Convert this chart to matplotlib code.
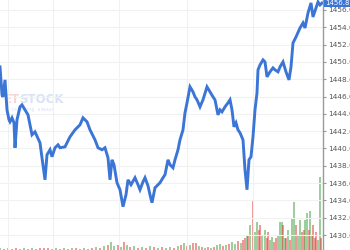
import matplotlib
matplotlib.use("Agg")
import matplotlib.pyplot as plt

# ---- data ----
t = [0,2,3,5,7,9,10,12,14,15,17,20,22,25,28,32,35,40,42,45,47,50,52,55,58,60,65,70,75,80,83,87,90,95,98,
     102,105,108,110,112,114,117,120,123,126,128,131,135,138,140,143,145,148,150,152,155,158,160,163,165,168,
     170,173,175,178,180,183,185,187,190,193,195,197,200,203,207,210,213,215,218,220,222,225,228,230,232,234,
     236,238,240,243,245,247,249,251,253,255,257,258,260,263,265,267,270,273,275,278,280,283,286,289,291,293,
     296,300,303,305,308,311,313,316,318,320,322]
price = [1449.42,1446.19,1445.96,1447.92,1444.46,1443.31,1443.08,1443.54,1442.96,1440.08,1443.31,1444.81,
         1445.04,1444.46,1443.88,1441.58,1441.92,1440.65,1438.92,1436.38,1439.27,1439.85,1439.04,1440.08,
         1440.42,1440.08,1440.19,1441.35,1442.15,1442.73,1443.54,1443.08,1442.15,1441.00,1440.08,
         1439.85,1440.08,1438.92,1436.38,1438.69,1438.12,1436.04,1435.23,1433.27,1434.65,1436.38,1435.81,
         1436.62,1435.81,1435.23,1436.15,1436.62,1435.69,1434.65,1433.73,1435.46,1435.81,1436.04,1436.62,
         1436.96,1438.69,1438.12,1437.77,1438.69,1439.85,1441.00,1442.15,1444.12,1445.27,1447.12,1446.54,
         1445.96,1445.62,1444.81,1445.62,1447.12,1446.54,1445.96,1445.62,1443.88,1444.46,1444.23,1444.81,
         1445.27,1445.62,1444.46,1442.50,1442.96,1442.15,1441.81,1441.00,1437.54,1435.23,1438.69,1439.04,
         1441.35,1444.46,1446.42,1449.08,1449.65,1450.23,1450.00,1448.27,1448.85,1449.31,1449.08,1448.85,
         1449.42,1450.00,1448.85,1447.92,1449.42,1452.19,1452.88,1453.92,1454.50,1453.92,1455.65,1456.81,
         1455.19,1456.23,1456.92,1456.58,1456.80]

vol_t = [0,4,8,12,16,20,24,28,32,36,40,44,48,52,56,60,
         64,68,72,76,80,84,88,92,96,100,104,108,111,114,118,121,
         124,127,130,134,138,142,146,150,154,158,162,166,170,174,178,181,
         184,187,190,193,196,199,202,205,208,211,214,217,220,223,226,229,
         232,235,238,241,243,245,247,248,250,253,255,257,259,260,262,265,
         267,268,270,272,274,276,278,280,282,283,285,286,288,290,292,294,
         296,298,300,302,304,305,307,309,310,312,313,315,316,318,320,321]
vol = [2,1,2,1,2,1,2,1,2,1,2,2,2,1,2,1,
       2,1,2,2,1,2,1,2,3,2,4,5,8,4,5,3,
       8,5,3,4,2,3,2,4,3,2,3,2,3,2,4,5,
       7,4,5,7,7,4,3,2,3,2,3,5,6,4,5,6,
       8,6,9,7,10,12,14,15,25,50,18,28,20,25,15,20,
       12,18,10,13,8,12,15,28,28,25,12,12,20,10,32,48,
       25,15,30,18,20,30,37,20,39,15,25,12,18,10,73,12]
vol_dir = ["g","r","g","r","r","g","g","r","g","r","r","r","r","g","g","r",
           "g","r","g","r","g","g","r","r","g","r","g","r","g","g","r","g",
           "r","g","r","g","r","g","r","g","r","g","r","g","g","r","g","r",
           "g","r","g","r","r","g","r","g","r","g","r","g","g","r","g","r",
           "g","g","r","g","r","r","g","r","g","r","g","g","r","r","g","g",
           "r","r","g","g","r","r","g","g","g","r","g","r","g","r","g","g",
           "r","g","g","r","r","g","g","r","g","g","r","r","r","g","g","r"]

price_ticks = [1430, 1432, 1434, 1436, 1438, 1440, 1442, 1444, 1446, 1448, 1450, 1452, 1454, 1456]
time_grid = [8, 53, 119, 187, 253]
last_price = 1456.80

# ---- figure ----
fig = plt.figure(figsize=(3.5, 2.5), dpi=100)
fig.patch.set_facecolor("white")
ax = fig.add_axes([0, 0, 323/350, 1])
axv = ax.twinx()

ax.set_xlim(0, 323)
ax.set_ylim(1428.27, 1457.15)

ax.set_yticks(price_ticks)
ax.set_yticklabels([f"{v:.2f}" for v in price_ticks])
ax.set_xticks(time_grid)
ax.grid(True, color="#f1f1f1", linewidth=0.8)
ax.set_axisbelow(True)
ax.tick_params(axis="x", length=0, labelbottom=False)
ax.yaxis.tick_right()
ax.tick_params(axis="y", direction="out", length=2.5, width=0.8, color="#999999",
               labelsize=5.3, labelcolor="#555555", pad=1.5)
for s in ["top", "left", "bottom"]:
    ax.spines[s].set_visible(False)
ax.spines["right"].set_color("#9a9a9a")
ax.spines["right"].set_linewidth(1.0)

# watermark
ax.text(4, 1445.6, "ET", fontsize=8.5, fontweight="bold", color="#f2c4c4", alpha=0.7,
        va="center", zorder=0)
ax.text(19, 1445.6, "STOCK", fontsize=8.5, fontweight="bold", color="#c9d6ee", alpha=0.7,
        va="center", zorder=0)
ax.text(12, 1444.5, "investing  always", fontsize=3.5, color="#c9d6ee", alpha=0.7,
        va="center", zorder=0)

# volume bars
axv.set_ylim(0, 250 * 14)
axv.set_yticks([])
for s in axv.spines.values():
    s.set_visible(False)
cols = ["#3aa13a" if d == "g" else "#e53030" for d in vol_dir]
axv.bar(vol_t, [v * 14 for v in vol], width=1.1, color=cols, alpha=0.5, linewidth=0)

# price line on top
ax.set_zorder(axv.get_zorder() + 1)
ax.patch.set_visible(False)
ax.plot(t, price, color="#3b76d6", linewidth=2.1, solid_joinstyle="miter")

# last price box
ax.annotate(f"{last_price:.2f}", xy=(1.0, last_price), xycoords=("axes fraction", "data"),
            xytext=(1.5, 0), textcoords="offset points", va="center", ha="left",
            fontsize=5.0, color="white", annotation_clip=False,
            bbox=dict(boxstyle="square,pad=0.2", facecolor="#3b76d6", edgecolor="none"))

fig.savefig("out.png", dpi=100)
